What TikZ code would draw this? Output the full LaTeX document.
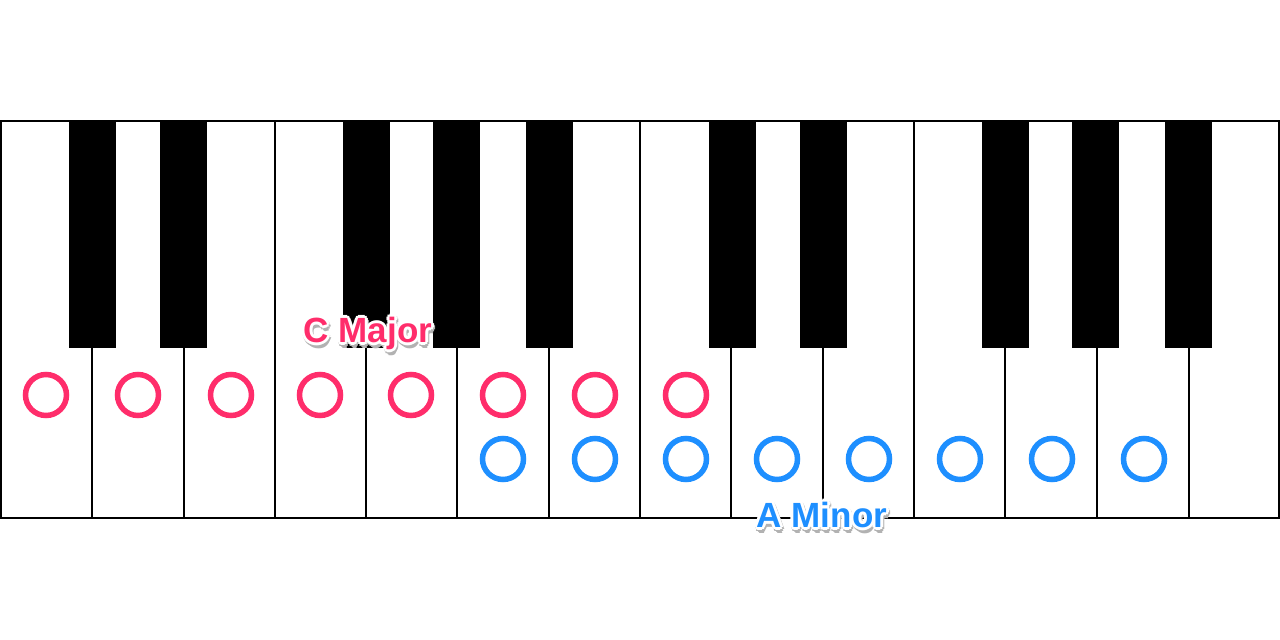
\documentclass[tikz,border=0pt]{standalone}
\usepackage{fontspec}
\setmainfont{Liberation Sans}
\definecolor{cred}{HTML}{FF2D6B}
\definecolor{cblue}{HTML}{1E8FFF}
\tikzset{
 wline/.style={black,line width=1.6pt},
 bkey/.style={fill=black,draw=none},
 rc/.style={draw=cred,line width=5.5pt,circle,minimum size=41pt,inner sep=0pt},
 bc/.style={draw=cblue,line width=5.5pt,circle,minimum size=41pt,inner sep=0pt},
 lbl/.style={font=\bfseries\fontsize{35}{35}\selectfont,inner sep=0pt}
}
\newcommand{\glowlabel}[4]{%
 \foreach \dx/\dy in {2/2,-2/2,2/-2,-2/-2,0/3,3/0,0/-3,-3/0,1/4}{
   \node[lbl,text=black!30] at ($(#1)+(\dx+1,\dy+2)$) {#3};}
 \foreach \dx/\dy in {2/2,-2/2,2/-2,-2/-2,0/3,3/0,0/-3,-3/0}{
   \node[lbl,text=white] at ($(#1)+(\dx,\dy)$) {#3};}
 \node[lbl,text=#2] (#4) at (#1) {#3};}
\usetikzlibrary{calc}
\begin{document}
\begin{tikzpicture}[x=1pt,y=-1pt]
\useasboundingbox[fill=white] (0,0) rectangle (1280,640);
\draw[wline] (0.8,121) rectangle (1279.2,518);
\foreach \x in {92,184,366,457,549,731,823,1005,1097,1189}
  \draw[wline] (\x,348) -- (\x,518);
\foreach \x in {275,640,914}
  \draw[wline] (\x,121) -- (\x,518);
\foreach \x in {69,160,343,433,526,709,800,982,1072,1165}
  \fill[bkey] (\x,121) rectangle ++(47,227);
\foreach \x [count=\i] in {46,138,231,320,411,503,595,686}
  \node[rc] (r\i) at (\x,395) {};
\foreach \x [count=\i] in {503,595,686,777,869,960,1052,1144}
  \node[bc] (b\i) at (\x,459) {};
\coordinate (cm) at (368,333);
\coordinate (am) at (822,515);
\glowlabel{cm}{cred}{C Major}{cmaj}
\glowlabel{am}{cblue}{A Minor}{amin}
\end{tikzpicture}
\end{document}
